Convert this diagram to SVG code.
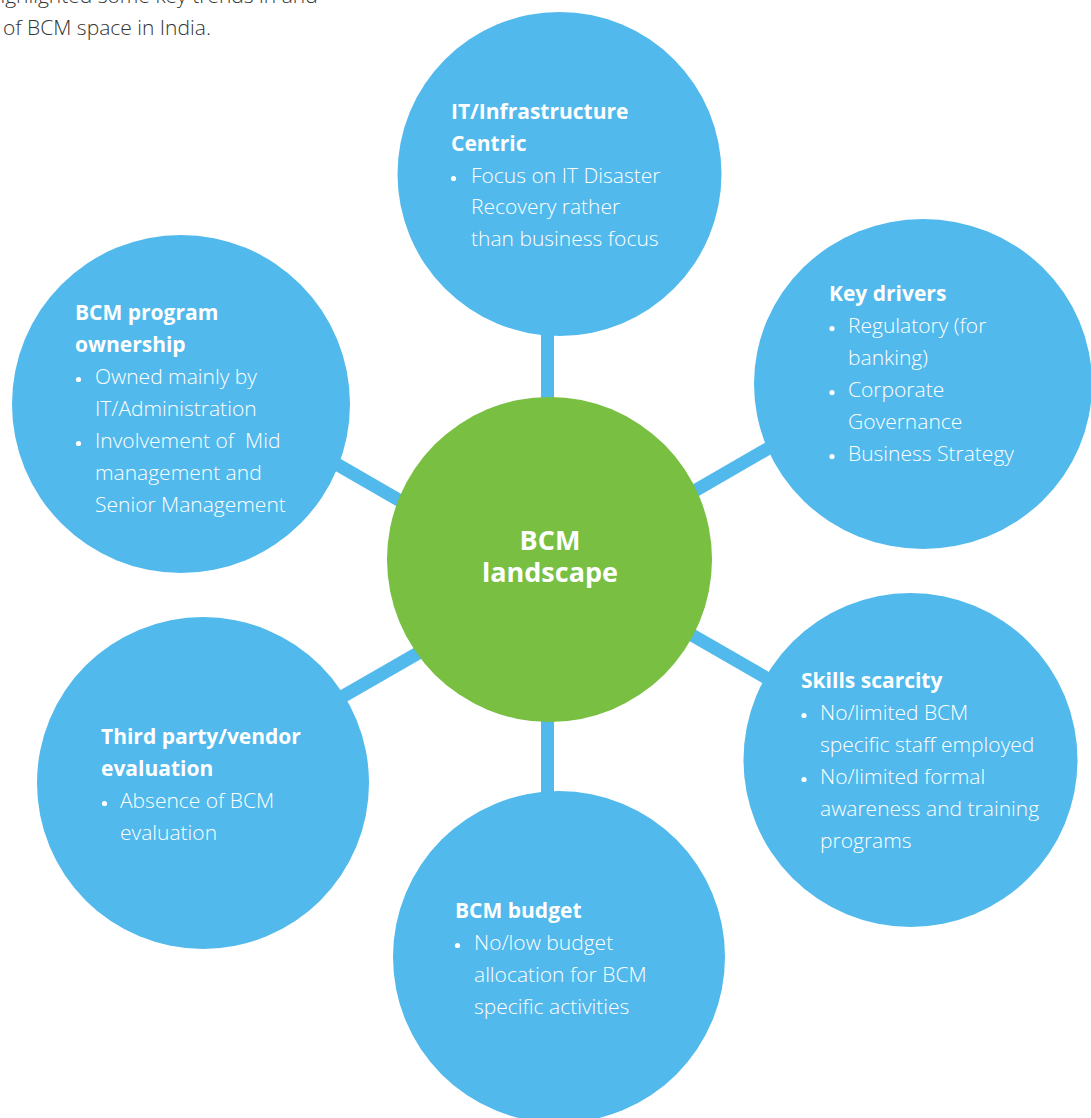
<svg xmlns="http://www.w3.org/2000/svg" width="1091" height="1118" viewBox="0 0 1091 1118">
  <style>
    .node { fill: #51B9EC; }
    .hub { fill: #78BF42; }
    .link { stroke: #51B9EC; stroke-width: 13; fill: none; }
    .head { font-family: "Open Sans", "Liberation Sans", sans-serif; font-weight: 700; font-size: 21px; fill: #FFFFFF; }
    .body { font-family: "Open Sans", "Liberation Sans", sans-serif; font-weight: 300; font-size: 21px; fill: #FFFFFF; }
    .hubtext { font-family: "Open Sans", "Liberation Sans", sans-serif; font-weight: 700; font-size: 27px; fill: #FFFFFF; text-anchor: middle; }
    .intro { font-family: "Open Sans", "Liberation Sans", sans-serif; font-weight: 300; font-size: 21px; fill: #333333; }
    .dot { fill: #FFFFFF; }
  </style>

  <rect width="1091" height="1118" fill="#FFFFFF"/>

  <!-- intro paragraph tail -->
  <text class="intro" x="-12" y="3">highlighted some key trends in and</text>
  <text class="intro" x="3" y="35">of BCM space in India.</text>

  <!-- spokes -->
  <g id="connectors">
    <line class="link" x1="547.5" y1="300" x2="547.5" y2="420"/>
    <line class="link" x1="547.5" y1="700" x2="547.5" y2="820"/>
    <line class="link" x1="300" y1="443" x2="450" y2="529.6"/>
    <line class="link" x1="650" y1="516.7" x2="800" y2="430"/>
    <line class="link" x1="300" y1="721" x2="460" y2="629"/>
    <line class="link" x1="650" y1="610.8" x2="800" y2="697.4"/>
  </g>

  <g id="node-infrastructure">
    <circle class="node" cx="559.5" cy="174" r="162"/>
    <text class="head" x="451" y="119">IT/Infrastructure</text>
    <text class="head" x="451" y="151">Centric</text>
    <circle class="dot" cx="453.5" cy="178.5" r="2.6"/>
    <text class="body" x="471" y="183">Focus on IT Disaster</text>
    <text class="body" x="471" y="214">Recovery rather</text>
    <text class="body" x="471" y="246">than business focus</text>
  </g>

  <g id="node-drivers">
    <ellipse class="node" cx="923" cy="384" rx="169" ry="165"/>
    <text class="head" x="829" y="301">Key drivers</text>
    <circle class="dot" cx="832" cy="328.5" r="2.6"/>
    <text class="body" x="848" y="333">Regulatory (for</text>
    <text class="body" x="848" y="365">banking)</text>
    <circle class="dot" cx="832" cy="392.5" r="2.6"/>
    <text class="body" x="848" y="397">Corporate</text>
    <text class="body" x="848" y="429">Governance</text>
    <circle class="dot" cx="832" cy="456.5" r="2.6"/>
    <text class="body" x="848" y="461">Business Strategy</text>
  </g>

  <g id="node-ownership">
    <circle class="node" cx="181" cy="404" r="169"/>
    <text class="head" x="75" y="320">BCM program</text>
    <text class="head" x="75" y="352">ownership</text>
    <circle class="dot" cx="78.5" cy="379.5" r="2.6"/>
    <text class="body" x="95" y="384">Owned mainly by</text>
    <text class="body" x="95" y="416">IT/Administration</text>
    <circle class="dot" cx="78.5" cy="443.5" r="2.6"/>
    <text class="body" x="95" y="448" xml:space="preserve">Involvement of  Mid</text>
    <text class="body" x="95" y="480">management and</text>
    <text class="body" x="95" y="512">Senior Management</text>
  </g>

  <g id="node-vendor">
    <circle class="node" cx="203" cy="783" r="166"/>
    <text class="head" x="101" y="744">Third party/vendor</text>
    <text class="head" x="101" y="776">evaluation</text>
    <circle class="dot" cx="104.5" cy="803.5" r="2.6"/>
    <text class="body" x="120" y="808">Absence of BCM</text>
    <text class="body" x="120" y="840">evaluation</text>
  </g>

  <g id="node-skills">
    <circle class="node" cx="910.5" cy="760" r="167"/>
    <text class="head" x="801" y="688">Skills scarcity</text>
    <circle class="dot" cx="804" cy="715.5" r="2.6"/>
    <text class="body" x="820" y="720">No/limited BCM</text>
    <text class="body" x="820" y="752">specific staff employed</text>
    <circle class="dot" cx="804" cy="779.5" r="2.6"/>
    <text class="body" x="820" y="784">No/limited formal</text>
    <text class="body" x="820" y="816">awareness and training</text>
    <text class="body" x="820" y="848">programs</text>
  </g>

  <g id="node-budget">
    <circle class="node" cx="559" cy="957" r="166"/>
    <text class="head" x="455" y="918">BCM budget</text>
    <circle class="dot" cx="457.5" cy="945.5" r="2.6"/>
    <text class="body" x="474" y="950">No/low budget</text>
    <text class="body" x="474" y="982">allocation for BCM</text>
    <text class="body" x="474" y="1014">specific activities</text>
  </g>

  <g id="node-hub">
    <circle class="hub" cx="549.5" cy="559.5" r="162.5"/>
    <text class="hubtext" x="550" y="550">BCM</text>
    <text class="hubtext" x="550" y="582">landscape</text>
  </g>
</svg>
